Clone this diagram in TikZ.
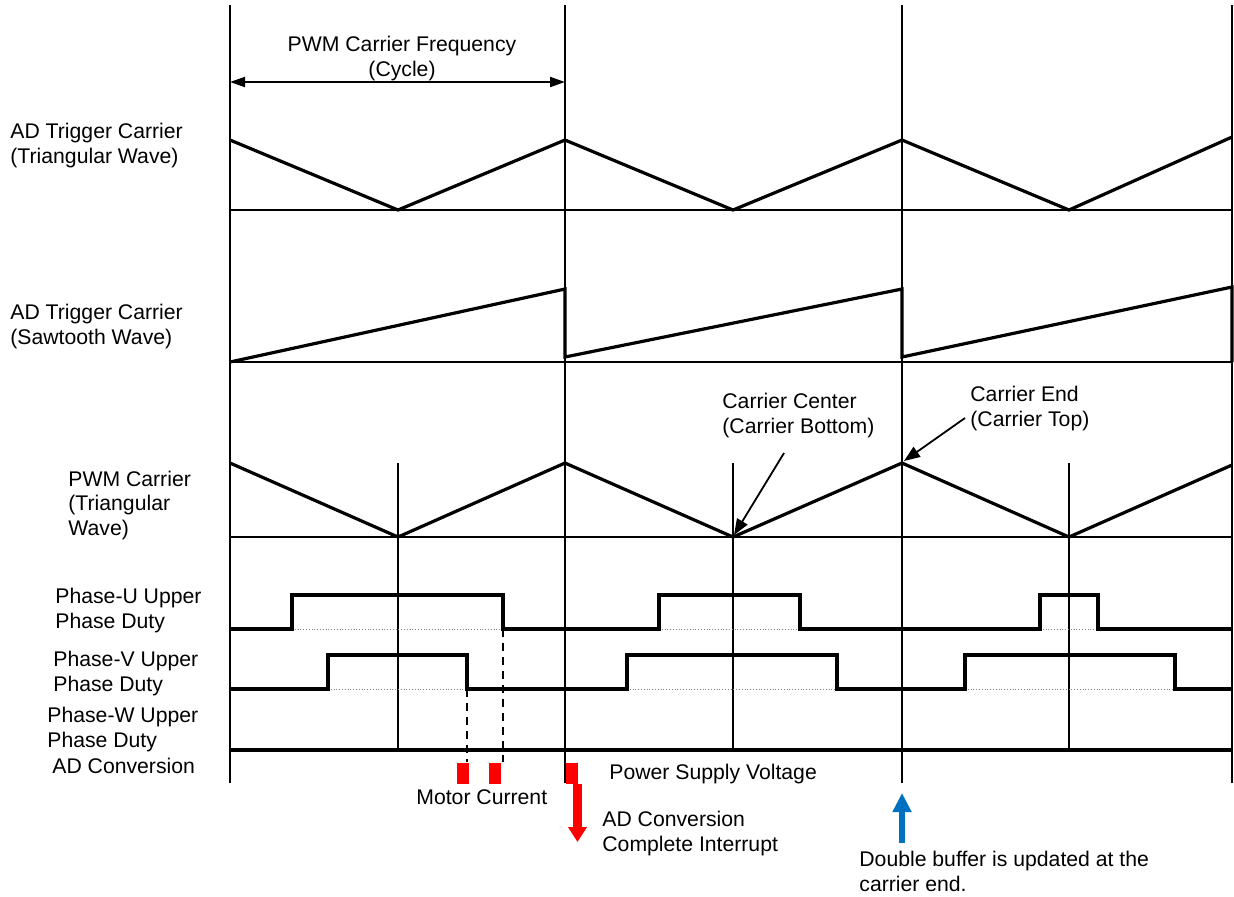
\documentclass[tikz,border=0pt]{standalone}
\usepackage{fontspec}
\setmainfont{Liberation Sans}
\usetikzlibrary{arrows.meta}
\definecolor{bufblue}{HTML}{0070C0}

\begin{document}
\begin{tikzpicture}[
    x=0.5pt, y=-0.5pt,
    lbl/.style={anchor=base west, inner sep=0pt, align=left, font=\fontsize{10.6}{12.1}\selectfont},
    grid/.style={line width=1pt},
    wave/.style={line width=1.6pt},
    duty/.style={line width=2.4pt},
    guide/.style={line width=0.4pt, densely dotted, gray},
    drop/.style={line width=0.8pt, dash pattern=on 4pt off 3pt},
    sample/.style={fill=red, draw=none, minimum width=6pt, minimum height=10.5pt, inner sep=0pt},
    arr/.style={-{Triangle[length=8pt, width=6pt]}, line width=0.9pt},
    dim/.style={{Triangle[length=7.5pt, width=5pt]}-{Triangle[length=7.5pt, width=5pt]}, line width=1pt},
    redarr/.style={-{Triangle[length=7.5pt, width=9pt]}, line width=4.5pt, red},
    bluearr/.style={-{Triangle[length=9.5pt, width=9pt]}, line width=3pt, bufblue}
]
\useasboundingbox (0,0) rectangle (1234,896);

% carrier period marks
\coordinate (p0) at (230,82);
\coordinate (p1) at (565,82);
\draw[grid] (230,5) -- (230,783);
\draw[grid] (565,5) -- (565,783);
\draw[grid] (902,5) -- (902,783);
\draw[grid] (1232,5) -- (1232,783);
\draw[grid] (398,463) -- (398,750);
\draw[grid] (733,463) -- (733,750);
\draw[grid] (1069,463) -- (1069,750);
\draw[grid] (230,210) -- (1232,210);
\draw[grid] (230,362) -- (1232,362);
\draw[grid] (230,537) -- (1232,537);

\node[lbl, anchor=base, align=center] (freq) at (402,76) {PWM Carrier Frequency\\(Cycle)};
\draw[dim] (p0) -- (p1);

% waves
\draw[wave] (230,140) -- (398,210) -- (565,140) -- (733,210) -- (902,140) -- (1069,210) -- (1232,137);
\draw[wave] (230,362) -- (565,289) -- (565,357) -- (902,289) -- (902,357) -- (1232,287) -- (1232,362);
\draw[wave] (230,463) -- (398,537) -- (565,463) -- (733,537) -- (902,463) -- (1069,537) -- (1232,465);

% duties
\draw[guide] (292,629) -- (503,629);
\draw[guide] (659,629) -- (800,629);
\draw[guide] (1040,629) -- (1098,629);
\draw[guide] (328,689) -- (467,689);
\draw[guide] (627,689) -- (837,689);
\draw[guide] (965,689) -- (1175,689);
\draw[duty] (230,629) -- (292,629) -- (292,595) -- (503,595) -- (503,629) -- (659,629) -- (659,595) -- (800,595) -- (800,629) -- (1040,629) -- (1040,595) -- (1098,595) -- (1098,629) -- (1232,629);
\draw[duty] (230,689) -- (328,689) -- (328,655) -- (467,655) -- (467,689) -- (627,689) -- (627,655) -- (837,655) -- (837,689) -- (965,689) -- (965,655) -- (1175,655) -- (1175,689) -- (1232,689);
\draw[duty] (230,750) -- (1232,750);
\draw[drop] (467,689) -- (467,762);
\draw[drop] (503,629) -- (503,762);

% labels (base = last line)
\node[lbl] (trilbl) at (10,163) {AD Trigger Carrier\\(Triangular Wave)};
\node[lbl] (sawlbl) at (10,344) {AD Trigger Carrier\\(Sawtooth Wave)};
\node[lbl] (pwmlbl) at (68,535) {PWM Carrier\\(Triangular\\Wave)};
\node[lbl] (ulbl) at (55,628) {Phase-U Upper\\Phase Duty};
\node[lbl] (vlbl) at (53,691) {Phase-V Upper\\Phase Duty};
\node[lbl] (wlbl) at (47,747) {Phase-W Upper\\Phase Duty};
\node[lbl] (adlbl) at (52,773) {AD Conversion};

\node[lbl] (center) at (722,433) {Carrier Center\\(Carrier Bottom)};
\node[lbl] (cend) at (970,426) {Carrier End\\(Carrier Top)};
\coordinate (cc) at (784,453);
\coordinate (ce) at (965,418);
\coordinate (bot) at (734,535);
\coordinate (top) at (904,461);
\draw[arr] (cc) -- (bot);
\draw[arr] (ce) -- (top);

% AD samples
\node[sample] (s1) at (463,773.5) {};
\node[sample] (s2) at (495,773.5) {};
\node[sample] (s3) at (572,773.5) {};
\node[lbl] (imot) at (416,804) {Motor Current};
\node[lbl] (vdc) at (609,779) {Power Supply Voltage};
\node[lbl] (adint) at (602,851) {AD Conversion\\Complete Interrupt};
\coordinate (irq) at (577.5,842);
\draw[redarr] (s3.south east -| irq) -- (irq);

\coordinate (buf) at (902,843);
\coordinate (upd) at (902,793);
\draw[bluearr] (buf) -- (upd);
\node[lbl] (dbuf) at (859,891) {Double buffer is updated at the\\carrier end.};
\end{tikzpicture}
\end{document}
